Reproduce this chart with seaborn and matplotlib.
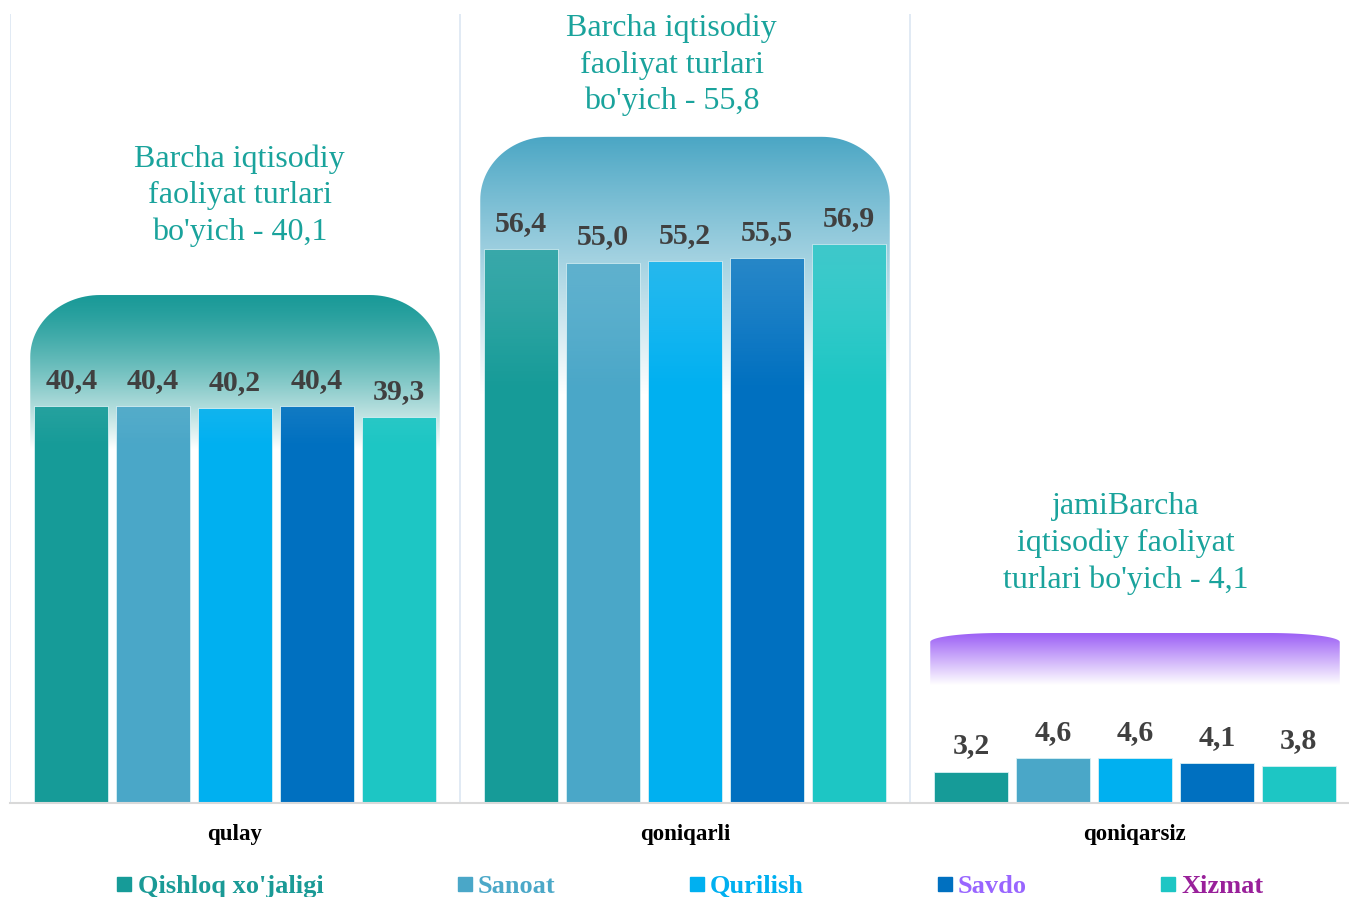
import numpy as np
import pandas as pd
import matplotlib
matplotlib.use("Agg")
import matplotlib.pyplot as plt
import seaborn as sns
from matplotlib.path import Path
from matplotlib.patches import PathPatch
from matplotlib.lines import Line2D
from matplotlib.colors import to_rgb

# data
categories = ["qulay", "qoniqarli", "qoniqarsiz"]
sectors = ["Qishloq xo'jaligi", "Sanoat", "Qurilish", "Savdo", "Xizmat"]
qulay = [40.4, 40.4, 40.2, 40.4, 39.3]
qoniqarli = [56.4, 55.0, 55.2, 55.5, 56.9]
qoniqarsiz = [3.2, 4.6, 4.6, 4.1, 3.8]
totals = [
    "Barcha iqtisodiy\nfaoliyat turlari\nbo'yich - 40,1",
    "Barcha iqtisodiy\nfaoliyat turlari\nbo'yich - 55,8",
    "jamiBarcha\niqtisodiy faoliyat\nturlari bo'yich - 4,1",
]

bar_colors = ["#169b98", "#4aa7c8", "#00b0f0", "#0070c0", "#1dc6c4"]
legend_text_colors = ["#1a9a96", "#4ba8c8", "#00b0f0", "#9966ff", "#99209a"]

# decoration boxes (top colour, top y, fade-out y, corner radii px, fade curve)
box_colors = ["#1a9a98", "#4aa6c4", "#9a5cf5"]
box_tops = [51.7, 67.8, 17.3]
box_bottoms = [36.0, 41.5, 12.0]
box_radii = [(70, 62), (68, 63), (70, 9)]
box_fade = [1.35, 0.95, 1.0]
total_pos = [(0.01, 61.8), (-0.03, 75.1), (-0.02, 26.4)]

df = pd.DataFrame({
    "category": np.repeat(categories, len(sectors)),
    "sector": sectors * len(categories),
    "value": qulay + qoniqarli + qoniqarsiz,
})

sns.set_theme(style="white")
plt.rcParams["font.family"] = ["Liberation Serif", "DejaVu Serif"]

W, H = 1349, 897
fig = plt.figure(figsize=(W / 100, H / 100), dpi=100)
ax = fig.add_axes([10 / W, (H - 803) / H, 1350 / W, (803 - 14) / H])

sns.barplot(data=df, x="category", y="value", hue="sector", palette=bar_colors,
            saturation=1, width=0.91, gap=0.1, legend=False, ax=ax, zorder=2,
            edgecolor="#d8f0f4", linewidth=0.6)

ax.set_xlim(-0.5, 2.5)
ax.set_ylim(0, 80.3)

px_x = 1350 / 3.0
px_y = 789 / 80.3


def rounded_top(x0, x1, ybot, ytop, rx, ry):
    t = np.linspace(np.pi, np.pi / 2, 30)
    left = np.column_stack([x0 + rx + rx * np.cos(t), ytop - ry + ry * np.sin(t)])
    t2 = np.linspace(np.pi / 2, 0, 30)
    right = np.column_stack([x1 - rx + rx * np.cos(t2), ytop - ry + ry * np.sin(t2)])
    pts = np.vstack([[x0, ybot], left, right, [x1, ybot], [x0, ybot]])
    return Path(pts)


bars = [b for cont in ax.containers for b in cont]

for i in range(len(categories)):
    x0, x1 = i - 0.455, i + 0.455
    ytop, yb = box_tops[i], box_bottoms[i]
    rx, ry = box_radii[i]
    path = rounded_top(x0, x1, yb - 2, ytop, rx / px_x, ry / px_y)
    clip = PathPatch(path, transform=ax.transData, facecolor="none", edgecolor="none")
    n = 200
    tt = np.linspace(0, 1, n)[:, None]
    c = np.array(to_rgb(box_colors[i]))
    mix = tt ** box_fade[i]
    rgb = c * (1 - mix) + np.ones(3) * mix
    img = np.dstack([rgb[:, None, 0], rgb[:, None, 1], rgb[:, None, 2], np.ones((n, 1))])
    im = ax.imshow(img, extent=(x0, x1, yb, ytop), aspect="auto", origin="upper",
                   interpolation="bilinear", zorder=1)
    im.set_clip_path(clip)
    # light veil over the tops of the bars inside this box
    veil = np.dstack([rgb[:, None, 0], rgb[:, None, 1], rgb[:, None, 2], 0.55 * (1 - tt) ** 1.3])
    for b in bars:
        cx = b.get_x() + b.get_width() / 2
        if x0 < cx < x1 and b.get_height() > yb:
            im2 = ax.imshow(veil, extent=(x0, x1, yb, ytop), aspect="auto", origin="upper",
                            interpolation="bilinear", zorder=3)
            im2.set_clip_path(b)
    ax.text(i + total_pos[i][0], total_pos[i][1], totals[i], ha="center", va="center",
            multialignment="center", fontsize=23, color="#1aa39c", linespacing=1.33, zorder=5)

ax.set_xlim(-0.5, 2.5)
ax.set_ylim(0, 80.3)

for cont in ax.containers:
    for bar in cont:
        v = bar.get_height()
        ax.annotate(f"{v:.1f}".replace(".", ","), (bar.get_x() + bar.get_width() / 2, v),
                    xytext=(0, 13), textcoords="offset points", ha="center", va="baseline",
                    fontsize=21.5, fontweight="bold", color="#404040", zorder=6)

for xv in [-0.5, 0.5, 1.5, 2.5]:
    ax.axvline(xv, color="#dce6f2", linewidth=1.2, zorder=0)

for s in ["top", "right", "left"]:
    ax.spines[s].set_visible(False)
ax.spines["bottom"].set_color("#d9d9d9")
ax.spines["bottom"].set_linewidth(1.5)
ax.set_yticks([])
ax.set_xlabel("")
ax.set_ylabel("")
ax.tick_params(axis="x", length=0, pad=15)
for lab in ax.get_xticklabels():
    lab.set_fontsize(16.5)
    lab.set_fontweight("bold")
    lab.set_color("black")

handles = [Line2D([], [], marker="s", linestyle="none", markersize=10, color=c) for c in bar_colors]
fig.legend(handles, sectors, loc="center", bbox_to_anchor=(0.51, 0.012), ncol=5, frameon=False,
           labelcolor=legend_text_colors, prop={"size": 19, "weight": "bold"},
           columnspacing=4.9, handletextpad=0.05, handlelength=0.9, borderpad=0)

fig.savefig("out.png", dpi=100)
